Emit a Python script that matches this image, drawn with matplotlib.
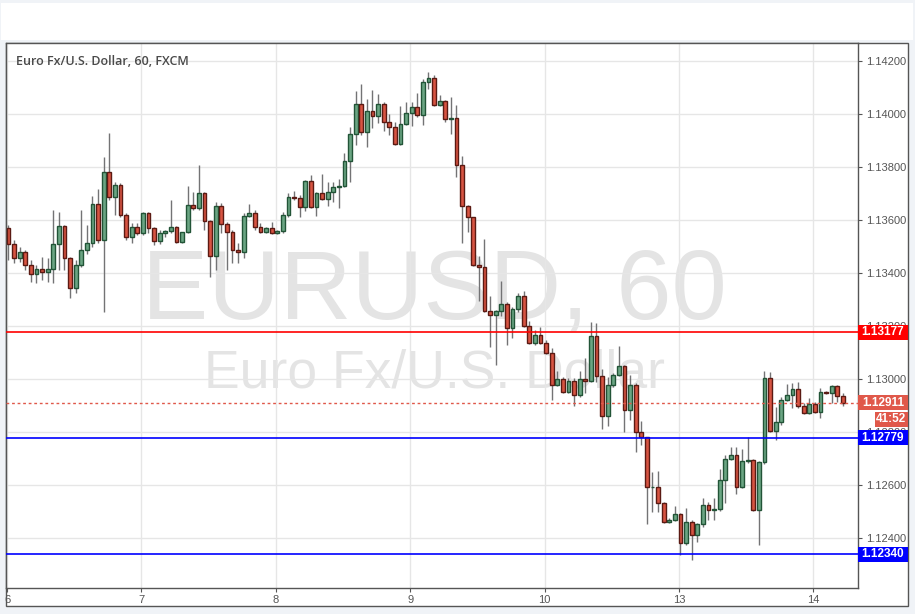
import numpy as np
import matplotlib
matplotlib.use('Agg')
import matplotlib.pyplot as plt
from matplotlib.patches import Rectangle
from matplotlib import transforms

plt.rcParams['font.family'] = ['Liberation Sans', 'DejaVu Sans']

# hourly EUR/USD candles, 6th to 14th
opens = [1.13571, 1.13510, 1.13458, 1.13480, 1.13431, 1.13397, 1.13416, 1.13405, 1.13416, 1.13510,
         1.13578, 1.13458, 1.13344, 1.13431, 1.13488, 1.13514, 1.13661, 1.13525, 1.13782, 1.13687,
         1.13732, 1.13619, 1.13537, 1.13574, 1.13552, 1.13627, 1.13571, 1.13522, 1.13552, 1.13559,
         1.13574, 1.13518, 1.13555, 1.13657, 1.13646, 1.13702, 1.13597, 1.13465, 1.13653, 1.13586,
         1.13555, 1.13488, 1.13480, 1.13616, 1.13627, 1.13574, 1.13555, 1.13571, 1.13552, 1.13559,
         1.13619, 1.13687, 1.13684, 1.13650, 1.13748, 1.13650, 1.13702, 1.13680, 1.13706, 1.13725,
         1.13729, 1.13823, 1.13925, 1.14038, 1.13932, 1.14012, 1.13993, 1.14038, 1.13970, 1.13951,
         1.13887, 1.13963, 1.14004, 1.14027, 1.13996, 1.14121, 1.14136, 1.14034, 1.14049, 1.13981,
         1.13985, 1.13808, 1.13653, 1.13612, 1.13431, 1.13424, 1.13258, 1.13243, 1.13258, 1.13284,
         1.13194, 1.13266, 1.13315, 1.13202, 1.13138, 1.13168, 1.13138, 1.13100, 1.12979, 1.13002,
         1.12953, 1.12994, 1.12941, 1.13002, 1.12994, 1.13164, 1.13013, 1.12862, 1.12979, 1.13017,
         1.13051, 1.12885, 1.12979, 1.12802, 1.12783, 1.12592, 1.12595, 1.12532, 1.12461, 1.12469,
         1.12492, 1.12383, 1.12461, 1.12412, 1.12453, 1.12526, 1.12507, 1.12510, 1.12620, 1.12700,
         1.12715, 1.12594, 1.12692, 1.12696, 1.12507, 1.12688, 1.13005, 1.12805, 1.12839, 1.12923,
         1.12941, 1.12964, 1.12900, 1.12873, 1.12907, 1.12877, 1.12953, 1.12949, 1.12975, 1.12937]
highs = [1.13582, 1.13525, 1.13499, 1.13488, 1.13450, 1.13431, 1.13461, 1.13458, 1.13638, 1.13631,
         1.13582, 1.13461, 1.13450, 1.13638, 1.13582, 1.13691, 1.13718, 1.13838, 1.13929, 1.13744,
         1.13740, 1.13627, 1.13589, 1.13589, 1.13631, 1.13631, 1.13574, 1.13563, 1.13563, 1.13676,
         1.13578, 1.13555, 1.13729, 1.13706, 1.13808, 1.13706, 1.13601, 1.13668, 1.13665, 1.13593,
         1.13563, 1.13514, 1.13627, 1.13661, 1.13638, 1.13589, 1.13574, 1.13593, 1.13563, 1.13631,
         1.13702, 1.13710, 1.13695, 1.13751, 1.13770, 1.13706, 1.13774, 1.13744, 1.13744, 1.13755,
         1.13853, 1.13951, 1.14087, 1.14113, 1.14057, 1.14091, 1.14076, 1.14046, 1.14000, 1.13970,
         1.14030, 1.14046, 1.14046, 1.14080, 1.14132, 1.14159, 1.14147, 1.14072, 1.14053, 1.14064,
         1.14034, 1.13842, 1.13657, 1.13612, 1.13465, 1.13529, 1.13315, 1.13262, 1.13371, 1.13292,
         1.13273, 1.13326, 1.13334, 1.13221, 1.13187, 1.13198, 1.13149, 1.13119, 1.13032, 1.13009,
         1.13006, 1.13006, 1.13032, 1.13081, 1.13217, 1.13213, 1.13039, 1.13009, 1.13024, 1.13126,
         1.13054, 1.13017, 1.12986, 1.12844, 1.12783, 1.12652, 1.12656, 1.12539, 1.12476, 1.12521,
         1.12496, 1.12515, 1.12469, 1.12457, 1.12552, 1.12539, 1.12552, 1.12662, 1.12715, 1.12745,
         1.12745, 1.12737, 1.12783, 1.12700, 1.12692, 1.13032, 1.13028, 1.12896, 1.12934, 1.12983,
         1.12986, 1.12990, 1.12911, 1.12930, 1.12915, 1.12968, 1.12956, 1.12979, 1.12979, 1.12949]
lows = [1.13450, 1.13439, 1.13443, 1.13412, 1.13367, 1.13363, 1.13375, 1.13367, 1.13363, 1.13412,
        1.13412, 1.13307, 1.13326, 1.13424, 1.13473, 1.13499, 1.13514, 1.13255, 1.13676, 1.13619,
        1.13612, 1.13525, 1.13514, 1.13544, 1.13544, 1.13552, 1.13507, 1.13510, 1.13537, 1.13552,
        1.13514, 1.13514, 1.13552, 1.13638, 1.13638, 1.13563, 1.13386, 1.13412, 1.13552, 1.13412,
        1.13439, 1.13439, 1.13458, 1.13612, 1.13563, 1.13552, 1.13552, 1.13548, 1.13548, 1.13552,
        1.13612, 1.13676, 1.13612, 1.13634, 1.13646, 1.13616, 1.13676, 1.13653, 1.13668, 1.13646,
        1.13725, 1.13744, 1.13883, 1.13921, 1.13876, 1.13947, 1.13966, 1.13936, 1.13921, 1.13883,
        1.13883, 1.13959, 1.13955, 1.13989, 1.13959, 1.14095, 1.14030, 1.14030, 1.13970, 1.13925,
        1.13763, 1.13514, 1.13555, 1.13427, 1.13296, 1.13255, 1.13122, 1.13054, 1.13239, 1.13130,
        1.13156, 1.13255, 1.13198, 1.13134, 1.13130, 1.13134, 1.13096, 1.12923, 1.12975, 1.12949,
        1.12949, 1.12900, 1.12934, 1.12949, 1.12990, 1.12990, 1.12813, 1.12825, 1.12971, 1.13013,
        1.12802, 1.12847, 1.12727, 1.12753, 1.12453, 1.12498, 1.12498, 1.12457, 1.12457, 1.12465,
        1.12338, 1.12375, 1.12319, 1.12387, 1.12443, 1.12469, 1.12469, 1.12503, 1.12533, 1.12696,
        1.12568, 1.12590, 1.12685, 1.12503, 1.12377, 1.12681, 1.12802, 1.12771, 1.12828, 1.12919,
        1.12892, 1.12892, 1.12869, 1.12869, 1.12873, 1.12854, 1.12945, 1.12911, 1.12915, 1.12900]
closes = [1.13510, 1.13458, 1.13480, 1.13431, 1.13397, 1.13416, 1.13405, 1.13416, 1.13510, 1.13578,
          1.13458, 1.13344, 1.13431, 1.13488, 1.13514, 1.13661, 1.13525, 1.13782, 1.13687, 1.13732,
          1.13619, 1.13537, 1.13574, 1.13552, 1.13627, 1.13571, 1.13522, 1.13552, 1.13559, 1.13574,
          1.13518, 1.13555, 1.13657, 1.13646, 1.13702, 1.13597, 1.13465, 1.13653, 1.13586, 1.13555,
          1.13488, 1.13480, 1.13616, 1.13627, 1.13574, 1.13555, 1.13571, 1.13552, 1.13559, 1.13619,
          1.13687, 1.13684, 1.13650, 1.13748, 1.13650, 1.13702, 1.13680, 1.13706, 1.13725, 1.13729,
          1.13823, 1.13925, 1.14038, 1.13932, 1.14012, 1.13993, 1.14038, 1.13970, 1.13951, 1.13887,
          1.13963, 1.14004, 1.14027, 1.13996, 1.14121, 1.14136, 1.14034, 1.14049, 1.13981, 1.13985,
          1.13808, 1.13653, 1.13612, 1.13431, 1.13424, 1.13258, 1.13243, 1.13258, 1.13284, 1.13194,
          1.13266, 1.13315, 1.13202, 1.13138, 1.13168, 1.13138, 1.13100, 1.12979, 1.13002, 1.12953,
          1.12994, 1.12941, 1.13002, 1.12994, 1.13164, 1.13013, 1.12862, 1.12979, 1.13017, 1.13051,
          1.12885, 1.12979, 1.12802, 1.12783, 1.12592, 1.12595, 1.12532, 1.12461, 1.12469, 1.12492,
          1.12383, 1.12461, 1.12412, 1.12453, 1.12526, 1.12507, 1.12510, 1.12620, 1.12700, 1.12715,
          1.12594, 1.12692, 1.12696, 1.12507, 1.12688, 1.13005, 1.12805, 1.12839, 1.12923, 1.12941,
          1.12964, 1.12900, 1.12873, 1.12907, 1.12877, 1.12953, 1.12949, 1.12975, 1.12937, 1.12911]

day_labels = ['6', '7', '8', '9', '10', '13', '14']
day_ticks = [0, 24, 48, 72, 96, 120, 144]
price_ticks = [1.124, 1.126, 1.128, 1.130, 1.132, 1.134, 1.136, 1.138, 1.140, 1.142]

resistance = 1.13177
supports = [1.12779, 1.12340]
countdown = '41:52'

W, H = 915, 614
fig = plt.figure(figsize=(W / 100, H / 100), dpi=100, facecolor='#f0f3f7')
fig.add_artist(Rectangle((1 / W, 1 - 40 / H), 912 / W, 37 / H, transform=fig.transFigure,
                         facecolor='white', edgecolor='none', zorder=0))
fig.add_artist(Rectangle((6 / W, 1 - 606 / H), 902 / W, 563 / H, transform=fig.transFigure,
                         facecolor='white', edgecolor='#555555', lw=1, zorder=0))

ax = fig.add_axes([6 / W, 1 - 588 / H, 852 / W, 545 / H])
ax.set_facecolor('white')

o = np.array(opens)
h = np.array(highs)
l = np.array(lows)
c = np.array(closes)
x = np.arange(len(c)) + 0.25
up = c >= o
bottom = np.minimum(o, c)
height = np.abs(c - o)

ax.vlines(x, l, h, color='#737375', lw=1, zorder=3)
ax.bar(x[up], height[up], bottom=bottom[up], width=0.68, color='#6ba583',
       edgecolor='#225437', lw=1, zorder=4)
ax.bar(x[~up], height[~up], bottom=bottom[~up], width=0.68, color='#d75442',
       edgecolor='#5b1a13', lw=1, zorder=4)

ymin, ymax = 1.12213, 1.14268
ax.set_ylim(ymin, ymax)
ax.set_xlim(-0.18, 151.96)
px = (ymax - ymin) / 545  # price per pixel

# horizontal levels
ax.axhline(resistance, color='#ff0000', lw=1.2, zorder=5)
for s in supports:
    ax.axhline(s, color='#0000ff', lw=1.2, zorder=5)
last = closes[-1]
ax.axhline(last, color='#e0584a', lw=1, ls=(0, (2, 2)), zorder=5)

ax.grid(color='#e6e6e6', lw=1)
ax.set_axisbelow(True)
for sp in ax.spines.values():
    sp.set_color('#555555')
    sp.set_linewidth(1)

ax.yaxis.tick_right()
ax.set_yticks(price_ticks)
ax.set_yticklabels(['%.5f' % p for p in price_ticks])
ax.set_xticks(day_ticks)
ax.set_xticklabels(day_labels)
ax.tick_params(axis='y', length=3, color='#555555', labelcolor='#555555', labelsize=8, pad=3)
ax.tick_params(axis='x', length=3, color='#555555', labelcolor='#555555', labelsize=8, pad=2)

# price labels on the right axis
trans = transforms.blended_transform_factory(ax.transAxes, ax.transData)
bw = 50 / 852
bh = 15 * px


def price_box(y, text, color, x0=1.0, w=bw):
    ax.add_patch(Rectangle((x0, y - bh / 2), w, bh, transform=trans, facecolor=color,
                           edgecolor='none', clip_on=False, zorder=10))
    ax.text(x0 + w / 2, y, text, transform=trans, ha='center', va='center', color='white',
            fontsize=8.5, fontweight='bold', clip_on=False, zorder=11)


price_box(resistance, '%.5f' % resistance, '#ff0000')
for s in supports:
    price_box(s, '%.5f' % s, '#0000ff')
price_box(last, '%.5f' % last, '#e0584a')
price_box(last - 16.5 * px, countdown, '#e0584a', x0=1 + 17 / 852, w=33 / 852)

# watermark and title
ax.text(0.503, 0.495, 'EURUSD, 60', transform=ax.transAxes, ha='center', va='baseline',
        fontsize=71.5, color='#e4e4e4', zorder=0.3)
ax.text(0.503, 0.367, 'Euro Fx/U.S. Dollar', transform=ax.transAxes, ha='center', va='baseline',
        fontsize=38.5, color='#e4e4e4', zorder=0.3)
ax.text(0.0117, 0.9596, 'Euro Fx/U.S. Dollar, 60, FXCM', transform=ax.transAxes, ha='left',
        va='baseline', fontsize=9, fontweight='semibold', family='Open Sans', color='#4a4a4a',
        zorder=12)

fig.savefig('out.png', dpi=100, facecolor=fig.get_facecolor())
